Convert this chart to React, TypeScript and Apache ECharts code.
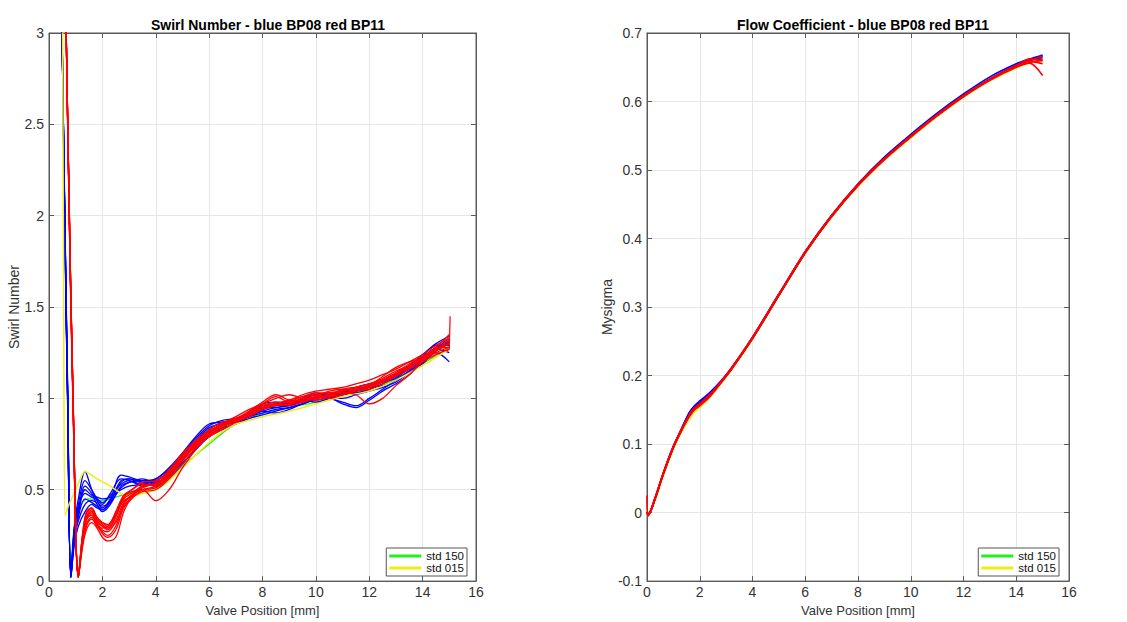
import React, { useEffect, useRef } from "react";
import * as echarts from "echarts";

// ---------- Swirl Number data ----------
const blueX = [0.45, 0.6, 0.7, 0.82, 0.95, 1.1, 1.35, 1.6, 1.8, 2.0, 2.3, 2.7, 3.0, 3.5, 4.0, 4.5, 5.0, 5.5, 6.0, 6.5, 7.0, 7.5, 8.0, 8.5, 9.0, 9.5, 10.0, 10.5, 11.0, 11.5, 12.0, 12.5, 13.0, 13.5, 14.0, 14.5, 15.0];
const blue1 = [3.4, 1.9, 1.0, 0.03, 0.3, 0.45, 0.6, 0.5, 0.44, 0.4, 0.45, 0.58, 0.57, 0.55, 0.56, 0.62, 0.7, 0.78, 0.85, 0.88, 0.89, 0.92, 0.96, 0.97, 0.96, 0.99, 1.02, 1.0, 0.98, 0.96, 1.0, 1.05, 1.1, 1.15, 1.2, 1.27, 1.33];
const blue2 = [3.4, 1.85, 0.95, 0.02, 0.25, 0.38, 0.52, 0.48, 0.42, 0.39, 0.44, 0.55, 0.56, 0.54, 0.55, 0.6, 0.68, 0.76, 0.83, 0.87, 0.88, 0.91, 0.95, 0.95, 0.97, 0.98, 1.0, 1.03, 1.02, 1.04, 1.06, 1.07, 1.1, 1.15, 1.22, 1.28, 1.3];
const blue3 = [3.4, 1.95, 1.05, 0.03, 0.28, 0.4, 0.48, 0.46, 0.45, 0.43, 0.47, 0.53, 0.55, 0.52, 0.54, 0.58, 0.66, 0.74, 0.8, 0.84, 0.86, 0.9, 0.93, 0.95, 0.96, 0.99, 1.01, 1.02, 1.04, 1.03, 1.05, 1.08, 1.12, 1.16, 1.21, 1.26, 1.32];
const blue4 = [3.4, 1.9, 1.0, 0.02, 0.22, 0.35, 0.45, 0.43, 0.41, 0.38, 0.42, 0.52, 0.54, 0.55, 0.53, 0.59, 0.67, 0.75, 0.82, 0.85, 0.87, 0.9, 0.92, 0.94, 0.95, 0.97, 1.0, 1.02, 1.03, 1.05, 1.07, 1.1, 1.13, 1.18, 1.24, 1.3, 1.34];
const blue5 = [3.4, 1.88, 0.98, 0.03, 0.26, 0.37, 0.5, 0.47, 0.46, 0.45, 0.46, 0.5, 0.52, 0.53, 0.55, 0.6, 0.69, 0.77, 0.84, 0.86, 0.88, 0.92, 0.97, 0.98, 0.97, 1.0, 1.03, 1.01, 1.0, 1.02, 1.04, 1.06, 1.09, 1.14, 1.19, 1.25, 1.2];
const blue6 = [3.4, 1.92, 1.02, 0.02, 0.24, 0.33, 0.42, 0.44, 0.43, 0.41, 0.44, 0.54, 0.56, 0.54, 0.52, 0.57, 0.64, 0.73, 0.81, 0.85, 0.88, 0.91, 0.94, 0.96, 0.98, 0.99, 0.98, 1.0, 1.03, 1.06, 1.08, 1.09, 1.11, 1.17, 1.23, 1.29, 1.29];
const blue7 = [3.4, 1.87, 0.97, 0.03, 0.29, 0.42, 0.55, 0.5, 0.45, 0.42, 0.48, 0.56, 0.55, 0.53, 0.56, 0.61, 0.7, 0.79, 0.86, 0.87, 0.88, 0.9, 0.93, 0.92, 0.94, 0.97, 0.99, 1.0, 0.97, 0.95, 0.99, 1.04, 1.08, 1.13, 1.2, 1.26, 1.31];
const blue8 = [3.4, 1.9, 1.0, 0.02, 0.2, 0.3, 0.38, 0.42, 0.4, 0.39, 0.43, 0.51, 0.54, 0.56, 0.54, 0.58, 0.65, 0.72, 0.79, 0.83, 0.86, 0.89, 0.91, 0.93, 0.95, 0.97, 1.0, 1.01, 1.02, 1.04, 1.06, 1.09, 1.12, 1.17, 1.22, 1.27, 1.25];

const redX = [0.6, 0.75, 0.9, 1.1, 1.25, 1.4, 1.6, 1.8, 2.0, 2.2, 2.5, 2.8, 3.1, 3.5, 4.0, 4.5, 5.0, 5.5, 6.0, 6.5, 7.0, 7.5, 8.0, 8.5, 9.0, 9.5, 10.0, 10.5, 11.0, 11.5, 12.0, 12.5, 13.0, 13.5, 14.0, 14.5, 15.0];
const red1 = [3.4, 2.1, 1.0, 0.02, 0.22, 0.35, 0.38, 0.33, 0.3, 0.28, 0.35, 0.45, 0.48, 0.52, 0.53, 0.6, 0.68, 0.76, 0.82, 0.86, 0.88, 0.92, 0.96, 0.98, 0.98, 1.0, 1.02, 1.03, 1.04, 1.05, 1.07, 1.1, 1.14, 1.18, 1.22, 1.27, 1.3];
const red2 = [3.4, 2.05, 0.95, 0.03, 0.25, 0.38, 0.4, 0.35, 0.32, 0.3, 0.38, 0.47, 0.5, 0.53, 0.52, 0.58, 0.66, 0.75, 0.8, 0.85, 0.88, 0.93, 0.97, 1.01, 0.98, 0.99, 1.01, 1.02, 1.05, 1.06, 1.06, 1.09, 1.13, 1.17, 1.21, 1.26, 1.32];
const red3 = [3.4, 2.1, 1.02, 0.02, 0.2, 0.3, 0.34, 0.3, 0.27, 0.25, 0.3, 0.42, 0.47, 0.5, 0.51, 0.57, 0.66, 0.74, 0.79, 0.83, 0.87, 0.91, 0.94, 0.96, 0.97, 0.99, 1.0, 1.02, 1.03, 1.04, 1.06, 1.1, 1.14, 1.19, 1.23, 1.28, 1.35];
const red4 = [3.4, 2.08, 0.98, 0.02, 0.18, 0.28, 0.32, 0.29, 0.24, 0.22, 0.24, 0.38, 0.46, 0.52, 0.53, 0.59, 0.68, 0.75, 0.81, 0.86, 0.89, 0.92, 0.95, 0.97, 0.99, 1.01, 1.03, 1.03, 1.04, 1.06, 1.08, 1.11, 1.15, 1.18, 1.21, 1.25, 1.28];
const red5 = [3.4, 2.1, 1.0, 0.03, 0.23, 0.36, 0.39, 0.34, 0.31, 0.29, 0.36, 0.46, 0.49, 0.5, 0.44, 0.5, 0.62, 0.72, 0.8, 0.86, 0.9, 0.94, 0.97, 1.0, 1.02, 1.0, 0.99, 1.01, 1.03, 1.02, 0.97, 1.0, 1.07, 1.13, 1.2, 1.26, 1.3];
const red6 = [3.4, 2.12, 1.03, 0.02, 0.21, 0.33, 0.37, 0.32, 0.28, 0.27, 0.33, 0.43, 0.47, 0.51, 0.54, 0.61, 0.7, 0.77, 0.83, 0.87, 0.89, 0.92, 0.95, 0.97, 0.99, 1.02, 1.04, 1.05, 1.06, 1.08, 1.1, 1.13, 1.16, 1.2, 1.24, 1.29, 1.33];
const red7 = [3.4, 2.06, 0.97, 0.02, 0.24, 0.34, 0.36, 0.31, 0.29, 0.3, 0.37, 0.44, 0.46, 0.49, 0.5, 0.56, 0.64, 0.73, 0.79, 0.84, 0.88, 0.92, 0.96, 0.97, 0.96, 0.98, 1.0, 1.01, 1.02, 1.04, 1.05, 1.08, 1.12, 1.16, 1.2, 1.24, 1.27];
const red8 = [3.4, 2.1, 1.0, 0.03, 0.19, 0.31, 0.35, 0.31, 0.26, 0.24, 0.28, 0.4, 0.45, 0.5, 0.52, 0.59, 0.67, 0.76, 0.82, 0.86, 0.89, 0.93, 0.98, 1.02, 0.99, 0.98, 1.01, 1.04, 1.05, 1.05, 1.07, 1.12, 1.17, 1.2, 1.22, 1.26, 1.3];
const red9 = [3.4, 2.09, 1.0, 0.02, 0.22, 0.34, 0.38, 0.33, 0.3, 0.29, 0.32, 0.41, 0.46, 0.52, 0.53, 0.58, 0.67, 0.74, 0.8, 0.85, 0.87, 0.9, 0.94, 0.96, 0.97, 0.99, 1.01, 1.02, 1.04, 1.06, 1.08, 1.1, 1.13, 1.17, 1.22, 1.27, 1.28];
const red10 = [3.4, 2.1, 1.01, 0.02, 0.24, 0.37, 0.4, 0.34, 0.32, 0.31, 0.37, 0.46, 0.5, 0.54, 0.55, 0.6, 0.69, 0.77, 0.82, 0.86, 0.88, 0.91, 0.95, 0.97, 0.98, 1.01, 1.02, 1.0, 1.02, 1.05, 1.07, 1.09, 1.13, 1.18, 1.22, 1.27, 1.32];
const redSpikeX = [14.9, 15.0, 15.03];
const redSpikeY = [1.26, 1.27, 1.45];

const greenX = [0.45, 0.6, 0.7, 0.82, 0.95, 1.2, 1.5, 2.0, 2.5, 3.0, 3.5, 4.0, 4.5, 5.0, 5.5, 6.0, 6.5, 7.0, 7.5, 8.0, 9.0, 10.0, 11.0, 12.0, 13.0, 14.0, 15.0];
const greenY = [3.4, 1.9, 1.0, 0.05, 0.3, 0.42, 0.45, 0.44, 0.46, 0.48, 0.5, 0.51, 0.56, 0.63, 0.69, 0.75, 0.81, 0.86, 0.89, 0.92, 0.95, 0.98, 1.02, 1.05, 1.11, 1.19, 1.28];
const yellowX = [0.5, 0.55, 0.6, 0.75, 1.0, 1.35, 1.8, 2.3, 2.7, 3.0, 3.5, 4.0, 4.5, 5.0, 5.5, 6.0, 6.5, 7.0, 7.5, 8.0, 9.0, 10.0, 11.0, 12.0, 13.0, 14.0, 15.0];
const yellowY = [3.4, 1.5, 0.36, 0.42, 0.5, 0.6, 0.56, 0.52, 0.48, 0.46, 0.48, 0.5, 0.55, 0.62, 0.69, 0.76, 0.82, 0.86, 0.88, 0.9, 0.93, 0.97, 1.01, 1.04, 1.1, 1.18, 1.27];

// ---------- Flow Coefficient data ----------
const flowX = [0, 0.05, 0.3, 0.6, 1.0, 1.3, 1.6, 1.8, 2.0, 2.4, 2.8, 3.2, 4, 5, 6, 7, 8, 9, 10, 11, 12, 13, 14, 14.5, 15];
const flowBlue1 = [0, -0.002, 0.021, 0.056, 0.097, 0.122, 0.146, 0.156, 0.163, 0.176, 0.192, 0.211, 0.256, 0.319, 0.381, 0.434, 0.48, 0.519, 0.552, 0.583, 0.611, 0.636, 0.655, 0.662, 0.668];
const flowBlue2 = [0, -0.003, 0.019, 0.054, 0.095, 0.121, 0.145, 0.155, 0.161, 0.174, 0.191, 0.21, 0.254, 0.317, 0.379, 0.432, 0.478, 0.517, 0.55, 0.581, 0.609, 0.633, 0.653, 0.66, 0.664];
const flowBlue3 = [0, -0.002, 0.02, 0.055, 0.096, 0.12, 0.144, 0.154, 0.16, 0.173, 0.19, 0.209, 0.255, 0.318, 0.38, 0.433, 0.479, 0.518, 0.551, 0.58, 0.608, 0.632, 0.652, 0.661, 0.666];
const flowRed1 = [0.025, -0.005, 0.02, 0.055, 0.096, 0.12, 0.141, 0.151, 0.157, 0.171, 0.19, 0.21, 0.255, 0.318, 0.38, 0.433, 0.478, 0.516, 0.549, 0.58, 0.608, 0.632, 0.651, 0.657, 0.66];
const flowRed2 = [0, -0.003, 0.019, 0.054, 0.095, 0.119, 0.14, 0.15, 0.156, 0.17, 0.189, 0.209, 0.254, 0.317, 0.379, 0.432, 0.477, 0.515, 0.548, 0.579, 0.607, 0.631, 0.65, 0.656, 0.638];
const flowRed3 = [0, -0.002, 0.021, 0.056, 0.097, 0.121, 0.142, 0.152, 0.158, 0.172, 0.191, 0.211, 0.256, 0.319, 0.381, 0.434, 0.479, 0.517, 0.55, 0.581, 0.609, 0.633, 0.653, 0.66, 0.666];
const flowRed4 = [0, -0.003, 0.02, 0.055, 0.096, 0.12, 0.143, 0.153, 0.159, 0.173, 0.19, 0.21, 0.255, 0.318, 0.38, 0.433, 0.478, 0.516, 0.549, 0.58, 0.608, 0.632, 0.651, 0.659, 0.655];
const flowRed5 = [0, -0.002, 0.02, 0.055, 0.095, 0.12, 0.142, 0.152, 0.158, 0.172, 0.19, 0.21, 0.255, 0.318, 0.38, 0.433, 0.478, 0.516, 0.549, 0.58, 0.608, 0.632, 0.652, 0.662, 0.661];
const flowGreen = [0, 0, 0.018, 0.053, 0.094, 0.118, 0.139, 0.149, 0.155, 0.17, 0.189, 0.209, 0.254, 0.317, 0.379, 0.432, 0.477, 0.515, 0.548, 0.579, 0.607, 0.631, 0.65, 0.657, 0.66];
const flowYellow = [0, 0, 0.017, 0.052, 0.093, 0.117, 0.136, 0.146, 0.153, 0.169, 0.188, 0.208, 0.253, 0.316, 0.378, 0.431, 0.476, 0.514, 0.547, 0.578, 0.606, 0.63, 0.649, 0.656, 0.659];

// ---------- labels ----------
const titles = ["Swirl Number - blue BP08 red BP11", "Flow Coefficient - blue BP08 red BP11"];
const xName = "Valve Position [mm]";
const yNames = ["Swirl Number", "Mysigma"];
const legendNames = ["std 150", "std 015"];

const BLUE = "#0000ff";
const RED = "#ff0000";
const GREEN = "#22ee22";
const YELLOW = "#eeee11";
const FONT = '"Liberation Sans", Arial, Helvetica, sans-serif';
const AXIS = "#5a5a5a";

const pairs = (xs: number[], ys: number[]) => xs.map((x, i) => [x, ys[i]]);

function line(name: string, xs: number[], ys: number[], color: string, axis: number, width = 1, smooth: number | boolean = 0.35) {
  return {
    type: "line",
    name,
    data: pairs(xs, ys),
    xAxisIndex: axis,
    yAxisIndex: axis,
    showSymbol: false,
    symbol: "none",
    smooth,
    clip: true,
    lineStyle: { color, width },
    itemStyle: { color },
    silent: true,
  };
}

function xAxes(grid: number) {
  const common = {
    gridIndex: grid,
    type: "value",
    min: 0,
    max: 16,
    interval: 2,
    axisLine: { show: true, onZero: false, lineStyle: { color: AXIS, width: 1 } },
    axisTick: { show: true, inside: true, length: 5, lineStyle: { color: AXIS } },
  };
  return [
    {
      ...common,
      position: "bottom",
      name: xName,
      nameLocation: "middle",
      nameGap: 20,
      nameTextStyle: { fontFamily: FONT, fontSize: 13, color: "#333" },
      axisLabel: { fontFamily: FONT, fontSize: 14, color: "#333", margin: 4 },
      splitLine: { show: true, lineStyle: { color: "#e6e6e6", width: 1 } },
    },
    { ...common, position: "top", axisLabel: { show: false }, splitLine: { show: false } },
  ];
}

function yAxes(grid: number, min: number, max: number, interval: number, name: string, gap: number) {
  const common = {
    gridIndex: grid,
    type: "value",
    min,
    max,
    interval,
    axisLine: { show: true, onZero: false, lineStyle: { color: AXIS, width: 1 } },
    axisTick: { show: true, inside: true, length: 5, lineStyle: { color: AXIS } },
  };
  return [
    {
      ...common,
      position: "left",
      name,
      nameLocation: "middle",
      nameGap: gap,
      nameTextStyle: { fontFamily: FONT, fontSize: 14, color: "#333" },
      axisLabel: { fontFamily: FONT, fontSize: 14, color: "#333", margin: 5 },
      splitLine: { show: true, lineStyle: { color: "#e6e6e6", width: 1 } },
    },
    { ...common, position: "right", axisLabel: { show: false }, splitLine: { show: false } },
  ];
}

function legend(right: number) {
  return {
    data: legendNames,
    orient: "vertical",
    right,
    top: 548,
    icon: "rect",
    itemWidth: 32,
    itemHeight: 3,
    itemGap: 0,
    padding: [2, 3, 2, 3],
    borderColor: "#555",
    borderWidth: 1,
    backgroundColor: "#fff",
    selectedMode: false,
    textStyle: { fontFamily: FONT, fontSize: 11.5, color: "#111", lineHeight: 12 },
  };
}

export default function App() {
  const ref = useRef<HTMLDivElement>(null);
  useEffect(() => {
    if (!ref.current) return;
    const chart = echarts.init(ref.current, undefined, { renderer: "svg" });
    const blues = [blue1, blue2, blue3, blue4, blue5, blue6, blue7, blue8];
    const reds = [red1, red2, red3, red4, red5, red6, red7, red8, red9, red10];
    const flowBlues = [flowBlue1, flowBlue2, flowBlue3];
    const flowReds = [flowRed1, flowRed2, flowRed3, flowRed4, flowRed5];
    const series: any[] = [];
    series.push(line(legendNames[0], greenX, greenY, GREEN, 0, 1.3));
    blues.forEach((ys, i) => series.push(line("BP08 " + (i + 1), blueX, ys, BLUE, 0, 1.3)));
    series.push(line(legendNames[1], yellowX, yellowY, YELLOW, 0, 1.5, 0.2));
    reds.forEach((ys, i) => series.push(line("BP11 " + (i + 1), redX, ys, RED, 0, 1.3)));
    series.push(line("BP11 spike", redSpikeX, redSpikeY, RED, 0, 1.2, false));

    series.push(line(legendNames[0], flowX, flowGreen, GREEN, 2, 1.5, 0.3));
    series.push(line(legendNames[1], flowX, flowYellow, YELLOW, 2, 1.5, 0.3));
    flowBlues.forEach((ys, i) => series.push(line("BP08 f" + (i + 1), flowX, ys, BLUE, 2, 1.6, 0.3)));
    flowReds.forEach((ys, i) => series.push(line("BP11 f" + (i + 1), flowX, ys, RED, 2, 1.6, 0.3)));

    const titleStyle = { fontFamily: FONT, fontSize: 14, fontWeight: "bold", color: "#000" };
    chart.setOption({
      animation: false,
      backgroundColor: "#fff",
      title: [
        { text: titles[0], left: 263, top: 13, textAlign: "center", textStyle: titleStyle },
        { text: titles[1], left: 858, top: 13, textAlign: "center", textStyle: titleStyle },
      ],
      grid: [
        { left: 49, top: 33, width: 427, height: 554, show: true, borderColor: AXIS, borderWidth: 1, backgroundColor: "#fff" },
        { left: 647, top: 33, width: 422, height: 554, show: true, borderColor: AXIS, borderWidth: 1, backgroundColor: "#fff" },
      ],
      xAxis: [...xAxes(0), ...xAxes(1)],
      yAxis: [...yAxes(0, 0, 3, 0.5, yNames[0], 26), ...yAxes(1, -0.1, 0.7, 0.1, yNames[1], 31)],
      legend: [legend(660), legend(68)],
      series,
    });
    return () => chart.dispose();
  }, []);
  return <div ref={ref} style={{ position: "absolute", left: 0, top: 0, width: 1127, height: 622, background: "#fff" }} />;
}
